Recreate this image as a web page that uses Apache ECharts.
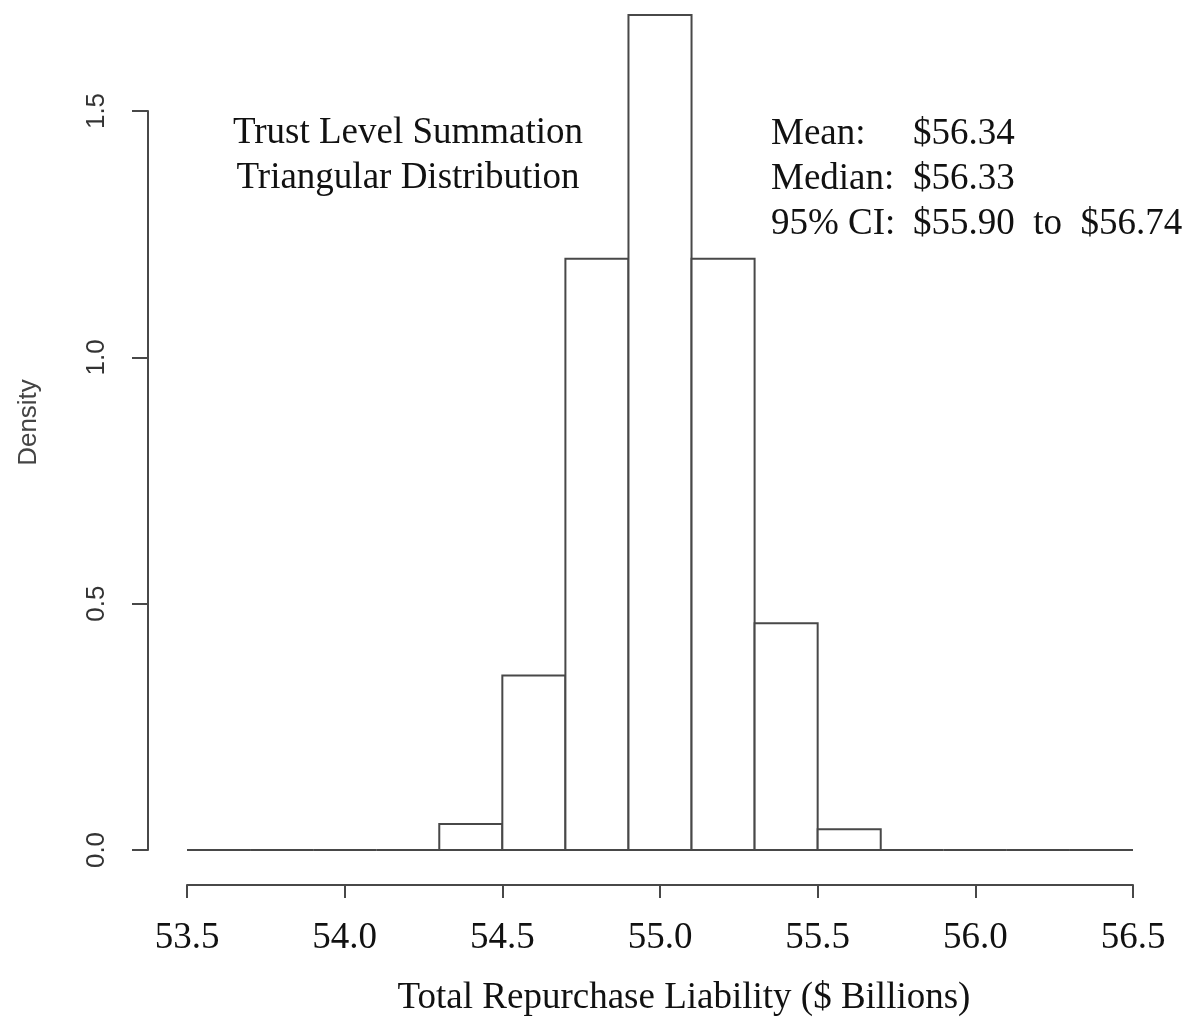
<!DOCTYPE html>
<html>
<head>
<meta charset="utf-8">
<script src="https://cdn.jsdelivr.net/npm/echarts@6/dist/echarts.min.js"></script>
<style>
html,body{margin:0;padding:0;background:#fff;}
#chart{width:1189px;height:1022px;}
</style>
</head>
<body>
<div id="chart"></div>
<script>
// Histogram bin breaks (x, $ Billions) and densities per bin
const breaks = [53.5, 53.7, 53.9, 54.1, 54.3, 54.5, 54.7, 54.9, 55.1, 55.3, 55.5, 55.7, 55.9, 56.1, 56.3, 56.5];
const density = [0, 0, 0, 0, 0.053, 0.354, 1.2, 1.695, 1.2, 0.46, 0.042, 0, 0, 0, 0];
const xTicks = [53.5, 54.0, 54.5, 55.0, 55.5, 56.0, 56.5];
const yTicks = [0.0, 0.5, 1.0, 1.5];
const titleLines = ['Trust Level Summation', 'Triangular Distribution'];
const statLabels = ['Mean:', 'Median:', '95% CI:'];
const statValues = ['$56.34', '$56.33', '$55.90  to  $56.74'];

const serif = "'Liberation Serif','Times New Roman',serif";
const sans = "'Liberation Sans',Arial,sans-serif";
const lineCol = '#484848';

const bins = density.map((d, i) => [breaks[i], breaks[i + 1], d]);

const chart = echarts.init(document.getElementById('chart'), null, {renderer: 'canvas'});

const graphics = [];
titleLines.forEach((t, i) => {
  graphics.push({type: 'text', x: 408, y: 133 + i * 45.5,
    style: {text: t, font: '37px ' + serif, fill: '#111', align: 'center', verticalAlign: 'middle'}});
});
statLabels.forEach((t, i) => {
  graphics.push({type: 'text', x: 771, y: 134.5 + i * 45,
    style: {text: t, font: '37px ' + serif, fill: '#111', align: 'left', verticalAlign: 'middle'}});
  graphics.push({type: 'text', x: 913, y: 134.5 + i * 45,
    style: {text: statValues[i], font: '37px ' + serif, fill: '#111', align: 'left', verticalAlign: 'middle'}});
});

chart.setOption({
  animation: false,
  backgroundColor: '#fff',
  grid: {left: 187, right: 56, top: 111, bottom: 163, containLabel: false},
  xAxis: {
    type: 'value', min: xTicks[0], max: xTicks[xTicks.length - 1], interval: 0.5,
    offset: 35,
    axisLine: {show: true, onZero: false, lineStyle: {color: lineCol, width: 2}},
    axisTick: {show: true, length: 13, lineStyle: {color: lineCol, width: 2}},
    axisLabel: {show: true, margin: 35, fontFamily: serif, fontSize: 37, color: '#111',
      formatter: v => v.toFixed(1)},
    splitLine: {show: false},
    name: 'Total Repurchase Liability ($ Billions)',
    nameLocation: 'middle', nameGap: 95,
    nameTextStyle: {fontFamily: serif, fontSize: 37, color: '#111', padding: [0, 0, 0, 48]}
  },
  yAxis: {
    type: 'value', min: yTicks[0], max: yTicks[yTicks.length - 1], interval: 0.5,
    offset: 39,
    axisLine: {show: true, onZero: false, lineStyle: {color: lineCol, width: 2}},
    axisTick: {show: true, length: 16, lineStyle: {color: lineCol, width: 2}},
    axisLabel: {show: true, rotate: 90, margin: 38, fontFamily: sans, fontSize: 26, color: '#333',
      formatter: v => v.toFixed(1)},
    splitLine: {show: false},
    name: 'Density',
    nameLocation: 'middle', nameGap: 106, nameRotate: 90,
    nameTextStyle: {fontFamily: sans, fontSize: 26, color: '#444', padding: [0, 0, 0, 116]}
  },
  series: [{
    type: 'custom',
    clip: false,
    data: bins,
    encode: {x: [0, 1], y: 2},
    renderItem: function (params, api) {
      const p0 = api.coord([api.value(0), api.value(2)]);
      const p1 = api.coord([api.value(1), 0]);
      return {
        type: 'rect',
        shape: {x: p0[0], y: p0[1], width: p1[0] - p0[0], height: p1[1] - p0[1]},
        style: {fill: '#fff', stroke: lineCol, lineWidth: 2}
      };
    }
  }],
  graphic: graphics
});
</script>
</body>
</html>
